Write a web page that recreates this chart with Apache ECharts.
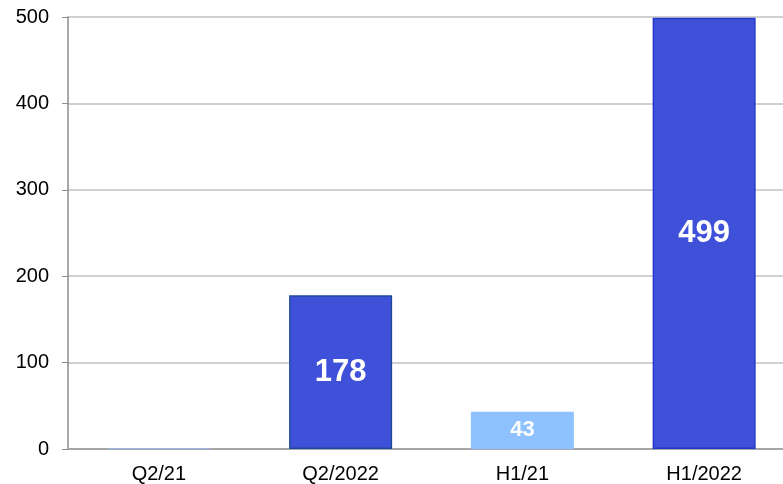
<!DOCTYPE html>
<html>
<head>
<meta charset="utf-8">
<script src="https://cdn.jsdelivr.net/npm/echarts@6/dist/echarts.min.js"></script>
<style>
  html, body { margin: 0; padding: 0; background: #fff; }
  #chart { width: 783px; height: 484px; }
</style>
</head>
<body>
<div id="chart"></div>
<script>
  const categories = ['Q2/21', 'Q2/2022', 'H1/21', 'H1/2022'];
  const values = [1, 178, 43, 499];
  const showLabel = [false, true, true, true];
  const labelSize = [22, 31, 22, 31];
  const fills = ['#9db5e2', '#3f51d9', '#8ec2ff', '#3f51d9'];
  const borders = ['#9db5e2', '#1e4a9e', '#8ec2ff', '#2637cc'];
  const borderWidths = [1, 1.5, 0, 1.5];
  const yTicks = { min: 0, max: 500, interval: 100 };

  const chart = echarts.init(document.getElementById('chart'));
  chart.setOption({
    animation: false,
    textStyle: { fontFamily: 'Liberation Sans, Arial, sans-serif' },
    grid: { left: 68, width: 727, top: 17, bottom: 35, outerBoundsMode: 'none', containLabel: false },
    xAxis: {
      type: 'category',
      data: categories,
      axisLine: { show: true, lineStyle: { color: '#a6a6a6', width: 2 } },
      axisTick: { show: false },
      axisLabel: { color: '#000', fontSize: 20, margin: 15 }
    },
    yAxis: {
      type: 'value',
      min: yTicks.min,
      max: yTicks.max,
      interval: yTicks.interval,
      axisLine: { show: true, lineStyle: { color: '#8c8c8c', width: 1.5 } },
      axisTick: { show: true, length: 6, lineStyle: { color: '#8c8c8c' } },
      axisLabel: { color: '#000', fontSize: 20, margin: 19 },
      splitLine: { show: true, lineStyle: { color: '#c0c0c0', width: 1.5 } }
    },
    series: [{
      type: 'bar',
      barWidth: 103,
      z: 3,
      data: values.map((v, i) => ({
        value: v,
        itemStyle: {
          color: fills[i],
          borderColor: borders[i],
          borderWidth: borderWidths[i]
        },
        label: {
          show: showLabel[i],
          position: 'inside',
          color: '#fff',
          fontWeight: 'bold',
          fontSize: labelSize[i]
        }
      }))
    }]
  });
</script>
</body>
</html>
